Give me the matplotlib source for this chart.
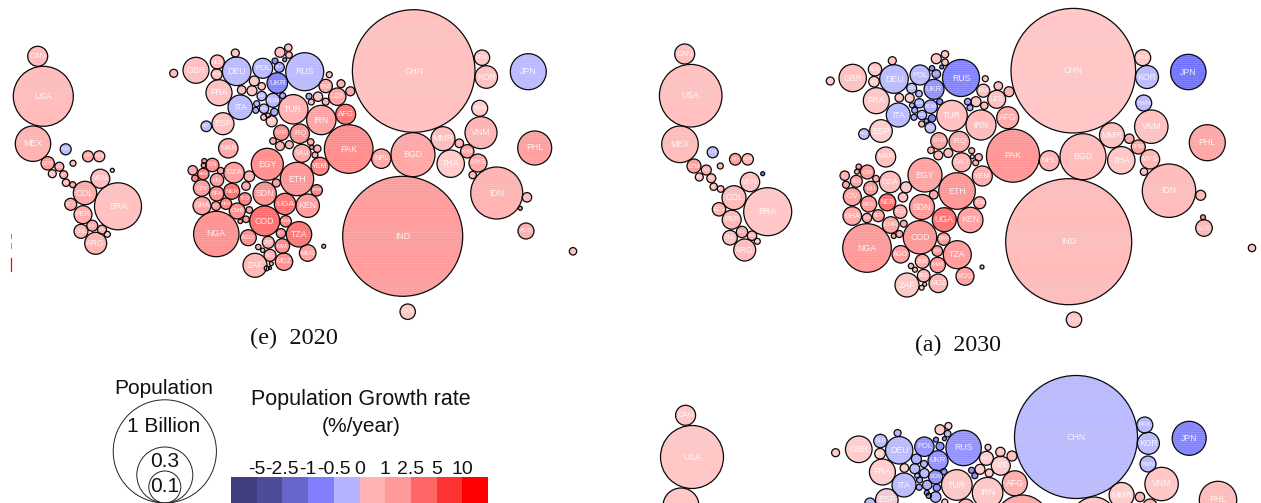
import numpy as np
import matplotlib
matplotlib.use("Agg")
import matplotlib.pyplot as plt
from matplotlib.patches import Circle, Rectangle
from matplotlib.colors import to_rgb

plt.rcParams['font.family'] = ['Liberation Sans', 'DejaVu Sans']
plt.rcParams['hatch.linewidth'] = 0.45

# ---------- 2020 panel (map position, bubble radius, growth rate)
codes_2020 = [
 'CAN','USA','MEX','CUB','HTI','DOM','','','GTM','HND',
 'SLV','NIC','CRI','PAN','VEN','COL','BRA','ECU','PER','BOL',
 'CHL','PRY','URY','ARG','','GBR','NLD','BEL','DEU','POL',
 'RUS','','','','','','','BLR','UKR','FRA',
 '','','','','BGR','ROM','','ITA','','HUN',
 '','','','','GRC','TUR','ESP','PRT','','',
 '','','KAZ','','UZB','IRN','AFG','','','PAK',
 'NPL','BGD','CHN','IND','PRK','KOR','JPN','TWN','VNM','MMR',
 '','KHM','THA','MYS','','IDN','','','AUS','PHL',
 '','LKA','','SYR','IRQ','','','','','',
 '','','SAU','YEM','EGY','MAR','','','GIN','',
 '','','SEN','MLI','DZA','','ETH','','','CIV',
 'BFA','NER','SDN','SOM','TCD','BEN','GHA','TGO','UGA','KEN',
 'CMR','','COD','NGA','','','RWA','BDI','TZA','AGO',
 'ZMB','MWI','MDG','','','','ZWE','MOZ','ZAF','',
 '']
x_2020 = [
 37.7,43.3,33,65.7,88,99.3,73,112.3,47.7,59.3,
 52.3,63.7,66,72.7,100.3,85,118,70.7,83,92.3,
 81,102,107.3,95.7,173.7,196,217.3,216.7,236.7,262.7,
 304.7,235.3,280,288.3,289,275,284.7,279.3,277.3,219,
 241.7,254.3,252,261.7,261.7,273,282.7,240.3,256.7,264,
 255.7,274.3,268,263.7,271.7,293.3,223,206.3,309,311.3,
 318,325.7,325.7,329.3,337.3,321.3,345.7,341,350.3,348.7,
 381.3,413,413.7,402.7,482,486.3,528.3,479.7,481,443,
 459.3,467.3,450.7,478,472.7,496.7,527,520.3,526,534.7,
 573,407.7,323.7,281.3,299.7,273,280,289.3,310.7,311.7,
 317.3,315,302,320,267.3,228.3,204.3,203.7,212.3,192.7,
 220.7,195,203.3,217,234,249.3,297,276.3,246,201.7,
 216.7,231.7,264.7,316.7,245,226,202,216,285,307.7,
 237.3,249.3,264.7,216.3,240.3,246,285.7,281,299,248.3,
 268.3,282.3,307.7,270,258.3,262.7,270,284,255,266.7,
 271.3]
y_2020 = [
 56.3,96.3,143.7,149.3,156.3,156.3,163.3,170.3,163.3,166.7,
 173.7,174.7,182.7,184.7,178.7,193,206.3,204.3,214.7,225.7,
 231.3,229.7,234.3,243.3,73.3,70.3,62,74.3,71.3,68.3,
 71.7,53,52.3,47.7,55,61,59.7,67.3,83,92.7,
 90,81,90.7,86.3,96,100.3,95.7,107.3,103.7,108.7,
 110.3,112,115.3,117.3,121.3,109.3,123.7,126.3,96.3,102,
 96.7,101.7,86,74.7,96.7,120,114.3,83.7,91.3,149,
 158.7,154.7,71,236.3,57.7,77,71.7,108.3,132.7,138.7,
 143.3,151.3,163.7,163,175,193,197.3,208.3,231,148,
 251.3,311.7,246.3,132.7,133.7,141,146,144.7,142,147.3,
 148.7,155,153.3,166.3,164.3,148.3,161,165.3,165,170.3,
 170.7,178.3,174,180,172.7,176.3,179,183,186,188,
 193.7,191.3,193.7,190.3,199,203.7,205.7,206,204,205.7,
 211,210,221,234,221.3,219.3,221.3,233.3,234.3,237.7,
 242.3,246,253,268,247,250.3,255.3,261.7,265.3,268.3,
 263.7]
r_2020 = [
 10,30,17.7,5.5,5.5,5.5,3,2,6.7,4.5,
 4,4,3.7,3,9.5,11.7,23.5,6,9,5.5,
 7,4.5,3,11,4,13,7,5.5,14.3,10,
 19,4,5,3.7,3.3,3,2,5,10.3,13,
 4.3,5,5,3.7,4.7,7,3,12.3,3,4.7,
 3,3.7,2.3,3,5.5,14.7,11,5.3,3,3,
 4.7,3.5,6.7,3,8.7,14.7,10,4,4.5,24.3,
 9.7,22,61.3,60,7.7,11.3,18,8,16,12,
 4.3,6.7,13.7,9,3.7,26,4.7,2,8,17,
 3.7,7.7,2,7.7,9.7,3.3,4.5,4,3.3,2,
 3.7,3,9,9,16,9.7,2.5,2.5,6.7,4.7,
 3.3,3.3,5.7,6.7,10.3,5.3,16.7,4,4.3,8.3,
 7.3,8,11.7,5.7,6.3,5.7,9,4.5,10.7,11.7,
 8,3.3,15,22.7,2.3,3.3,5.7,4.7,12.7,8,
 6,7.3,8.3,1.5,2.7,2.2,6,8.7,12,2.5,
 2]
rate_2020 = [
 .6,.6,.8,-.3,1,.8,.5,.6,1.4,1.2,
 .5,.9,.7,1,.6,1,.5,1.2,.9,1.1,
 .7,.9,.4,.8,.5,.5,.6,.5,-.3,-.3,
 -.3,.4,.5,.5,.5,-.6,-.6,-.5,-.7,.5,
 .5,.4,.4,.4,-.3,-.3,-.4,-.3,-.3,-.3,
 -.4,-.4,.4,.4,.4,.8,.5,-.3,-.5,.5,
 .5,.6,1,.5,1.2,1.2,2.6,.8,1.1,1.9,
 1,1.1,.5,1.4,.4,.5,-.3,.3,.8,.6,
 .7,1.3,.3,1.1,.6,.8,.6,1.6,.9,1.3,
 .4,.4,1,2,1.6,.8,.8,.7,.8,.8,
 .8,.8,1,2.2,1.8,1,1.5,1.6,1.8,1,
 .9,2,2.4,1.4,1.3,.8,1.6,1.1,1,1.4,
 1.8,3.3,1.7,2.3,2.4,2.2,1.2,1.6,2.8,1.4,
 1.7,1,3,1.7,1.4,1.2,2,2,2.8,1.8,
 1,2,1.2,.8,.8,.8,1,1.8,.7,.9,
 .9]

# ---------- 2030 panel
codes_2030 = [
 'CAN','USA','MEX','CUB','HTI','DOM','','','GTM','HND',
 'SLV','NIC','CRI','PAN','VEN','COL','BRA','ECU','PER','BOL',
 'CHL','PRY','URY','ARG','','GBR','NLD','BEL','DEU','POL',
 'RUS','','','','','','','BLR','UKR','FRA',
 '','CZE','','','BGR','ROM','','ITA','','',
 'HUN','','','','','GRC','TUR','ESP','PRT','',
 '','','','KAZ','','UZB','IRN','AFG','','',
 'PAK','NPL','BGD','CHN','IND','PRK','KOR','JPN','TWN','VNM',
 'MMR','','KHM','THA','MYS','','IDN','','','AUS',
 'PHL','','LKA','','SYR','IRQ','','','','',
 '','','','SAU','YEM','EGY','MAR','','','GIN',
 '','','','SEN','MLI','DZA','','ETH','','',
 'CIV','BFA','NER','SDN','SOM','TCD','BEN','GHA','TGO','UGA',
 'KEN','CMR','','COD','NGA','','','RWA','BDI','TZA',
 'AGO','ZMB','MWI','MDG','','','ZWE','MOZ','ZAF','',
 '']
x_2030 = [
 684.7,690.7,680,712.7,735.3,747.7,720.3,762.7,694,706.3,
 699.3,711.3,713.7,720.7,750,734,767.7,719,731.7,742,
 730,752,757.3,744.7,830.3,852.7,875,874,894,920,
 961,892.3,936.3,945,945,932,941.7,936.3,934,876.3,
 899.3,911.7,909.7,919,919.3,930.7,939.7,898.3,912,914.7,
 922,914,932,926.3,921.7,930.3,952,881,864,967.7,
 970,976,984.3,983.3,985.3,996.7,981,1007.7,998.3,1009,
 1013,1049.3,1083,1073.3,1068.7,1142.7,1147,1188.3,1143.7,1151.3,
 1112,1129.3,1138.3,1121.3,1150,1144,1169,1200.7,1203,1204,
 1207.3,1252,1074,982,939,959.3,931,938.3,948.3,971.7,
 972.3,978.7,975.7,961.7,982.3,925,885.7,858.7,857,867.3,
 844.7,876,846,856.3,870.7,890,906,957,933.7,903,
 852.3,868.7,887.3,922,979.7,900.3,878.3,852.3,867,944.3,
 970.3,890.7,903.7,920,867,893.7,899.3,943.7,937.3,957.3,
 900.7,922.3,937.7,965,911,915,923.7,938.3,907,921.7,
 924.7]
y_2030 = [
 54,95.7,144.3,152.3,159.3,159.3,166,173.7,166,170,
 177,178.3,186.7,189,182,197.7,211.7,209.3,219.7,232,
 237.7,235.7,241.3,250,81,78,69.3,81.7,79,75,
 78,60.7,58.7,54.3,62.3,68.3,67,74,89.3,100.7,
 97.7,88.3,98,93.7,103.3,106.7,101.7,115,105.3,110.3,
 115,117.3,118.3,121,124,127.7,115.7,131,134,101.7,
 107.7,101.7,105.7,90.7,78.7,99.3,125,117.7,86,91.7,
 155.7,160.7,156.7,70.7,241.7,57.7,77,72,103,126.7,
 135.3,138.7,147,160.3,159.3,171.7,190.7,195.3,217.3,228,
 142.7,248,319.7,267,141,141.7,150.3,155.3,153,150.7,
 156.7,157.3,162.7,162.3,176,175,157,166.7,171.7,172,
 175.7,178.7,184.7,181.3,188.3,182,187.3,191,194.7,197.3,
 196.7,204,202.3,207,202.7,211.7,215.7,216,218,219.7,
 220,225,223.7,237.3,248,236,234,239,251,254.7,
 254.3,261.3,265,276.3,266,269.7,275.7,283.3,285,287.7,
 284.3]
r_2030 = [
 10,31.3,18.3,5.5,5.8,5.7,3,2,7,5,
 4,4.5,3.7,3.3,9.7,12,24,6.7,9.5,5.7,
 7.3,4.7,3,11,4,13.7,6.7,5.3,14.3,10,
 18.5,4,5,3.7,3.3,2.7,2,4.3,10,13,
 4.3,5,4.5,3.3,4.7,6.7,3,12,2.5,3,
 4.7,3,3.7,2.3,3,5.3,15.3,11.3,5.3,3.3,
 3,5,3.7,6.5,3,9,15,11,4.3,5,
 26.5,10,23,62.3,63,8,11.5,17.7,8,16.7,
 12.5,4.7,7,13.7,9.7,3.7,26.7,5,2.5,8.3,
 18,3.7,7.7,2,8.3,10.3,3.3,4.5,4.5,3,
 2,3.7,3,9.5,10,17,10,2.7,2.5,7,
 4.7,3.3,3.5,6,7,10.7,5.5,18.3,4.3,4.7,
 9,8,8.5,12.5,6,6.7,6,9.3,4.7,12,
 12.7,8.3,3.5,16.7,24.3,2.5,3.5,6.3,5.3,14,
 8.7,7,7.7,9,2.7,2.5,6.3,9.3,12,2.5,
 2]
rate_2030 = [
 .5,.5,.6,-.3,1.4,.7,.6,-.8,1.3,.9,
 .4,.7,.6,.6,.5,.6,.4,.8,.7,1.1,
 .5,.8,.3,.6,.3,.5,.4,.3,-.3,-.3,
 -.7,.4,.4,.4,.4,-.6,-.7,-.6,-.6,.4,
 .4,-.3,.3,-.3,-.4,-.4,-.6,-.3,-.3,-.4,
 -.4,-.4,-.7,-.5,.5,-.3,.5,.3,-.3,-.5,
 -.4,.4,.5,.5,.4,.5,.6,1,.6,.8,
 1.6,.7,.6,.4,.6,.4,-.3,-.8,-.3,.5,
 .5,1,1.2,.4,.7,.5,.6,.7,1.6,.7,
 1.1,.4,.4,1,1.2,1,.7,.6,.6,.8,
 .7,.7,.7,.8,.9,1.2,.5,1,1,1.5,
 .8,.7,1,1.3,1.6,.6,.4,1.6,1,.5,
 1.2,1.5,3.2,1.4,1,.9,1.5,1,1.2,2.9,
 1.3,1.1,1,1.6,1.5,1.1,.9,1.4,1.5,1.4,
 1.3,1,1.5,1.3,.7,.6,.7,.8,.4,.5,
 .5]

# ---------- lower panel (its lower part is cut off by the image edge)
codes_low = [
 'CAN','USA','','','GBR','NLD','BEL','','DEU','POL',
 'RUS','','','','','','','UKR','FRA','',
 '','','','','ROM','','ITA','','','',
 '','','','','','TUR','ESP','','','',
 '','','KAZ','','UZB','IRN','AFG','','','',
 '','','','CHN','PRK','KOR','JPN','TWN','VNM','MMR',
 '','','PHL']
x_low = [
 685.6,692,681,835.6,858.8,880.4,880,897.6,899.2,924.4,
 963.6,940,948.4,947.6,936,944.4,940,938,882.4,904.4,
 916.4,914.8,924,924.4,935.6,944,904,917.2,919.6,927.2,
 919.2,936.8,926.8,935.6,928.8,956.8,886.8,870,971.6,974.8,
 980,989.2,986.4,988,1000.8,987.6,1014.8,1000.4,1012,1022,
 944.8,966,1094,1076,1144.8,1148.4,1189.2,1148,1161.6,1121.6,
 1140,1150,1218]
y_low = [
 415.3,457,506,452.7,449.3,441,453.7,433,450.3,446.7,
 448,429.7,426,433.7,439.7,438.7,446.3,460.7,472,468,
 459,468.7,464,473.3,477,471.7,485,475.7,480,485,
 487.3,487.7,492.7,497,495.7,485,500,503.3,470.3,475.7,
 469.3,473,458.3,447.3,465.7,492.7,483.3,452,456,522,
 502,507,519,437,425,443.3,438.3,464,484,495,
 497,506,500]
r_low = [
 10,31.5,18,4,13.3,6.7,5.3,3.5,13.7,9.7,
 17.7,5,3.5,3.3,2.5,2,4,10,13,4.3,
 5,5,3.5,4.7,7,3,12,2.5,3,4.7,
 3,3.7,2.5,5.3,2.7,15.3,11.3,5.3,3,3,
 5,4,7,3,9.5,15.3,12.5,4.7,5,27,
 3,8,22,61.5,8,11,17,8,16.7,12.5,
 4.7,7,18.7]
rate_low = [
 .4,.4,.4,.3,.3,-.3,.3,-.3,-.3,-.6,
 -.6,.3,.3,-.3,-.6,-.6,-.6,-.6,.3,.3,
 -.4,-.3,-.3,-.3,-.6,-.6,-.3,-.3,-.4,-.4,
 -.4,-.6,-.6,-.4,-.4,.4,.2,-.3,-.6,-.6,
 .3,.3,.3,.3,.3,.4,.9,.4,.5,1,
 .3,.8,.4,-.3,-.3,-.3,-.7,-.3,.4,.3,
 .8,.8,.6]

# ---------- legends
panel_captions = ['(e)  2020', '(a)  2030']
size_labels = ['1 Billion', '0.3', '0.1']
size_radii = [51.6, 28, 16]
class_labels = ['-5', '-2.5', '-1', '-0.5', '0', '1', '2.5', '5', '10']
class_colors = ['#3f3f80', '#4c4c99', '#6666cc', '#8080ff', '#b3b3ff',
                '#ffb3b3', '#ff9999', '#ff6666', '#ff3333', '#ff0000']

# colour ramp seen on the bubbles
ramp_rates = [-0.8, -0.5, -0.3, 0.3, 0.5, 1.0, 1.8, 3.0]
ramp_colors = ['#7070ff', '#a0a0ff', '#b8b8ff', '#ffcaca', '#ffbebe', '#ffa6a6', '#ff8c8c', '#ff6c6c']
ramp_rgb = np.array([to_rgb(c) for c in ramp_colors])


def bubble_color(rate):
    return tuple(np.interp(rate, ramp_rates, ramp_rgb[:, i]) for i in range(3))


fig = plt.figure(figsize=(12.61, 5.03), dpi=100)
ax = fig.add_axes([0, 0, 1, 1])
ax.set_xlim(0, 1261)
ax.set_ylim(503, 0)
ax.axis('off')


def draw_panel(codes, xs, ys, rs, rates):
    for c, x, y, r, g in zip(codes, xs, ys, rs, rates):
        col = bubble_color(g)
        ax.add_patch(Circle((x, y), r, facecolor=col, edgecolor='none', zorder=2))
        if r > 4:
            ax.add_patch(Circle((x, y), r, facecolor='none', edgecolor=(1, 1, 1, 0.22),
                                hatch='-' * 8, linewidth=0, zorder=2.1))
        ax.add_patch(Circle((x, y), r, facecolor='none', edgecolor='#0a0a0a',
                            linewidth=0.9, zorder=2.2))
        if c:
            ax.text(x, y, c, color='white', alpha=0.85, ha='center', va='center',
                    fontsize=min(8.8, r * 0.78) * 0.72, zorder=3, clip_on=True)


draw_panel(codes_2020, x_2020, y_2020, r_2020, rate_2020)
draw_panel(codes_2030, x_2030, y_2030, r_2030, rate_2030)
draw_panel(codes_low, x_low, y_low, r_low, rate_low)

# clipped remnants at the left edge of the picture
ax.plot([10.5, 10.5], [258, 271], color='#ff0000', lw=0.9, zorder=2)
ax.plot([10.5, 10.5], [234, 237.5], color='#888888', lw=0.7, zorder=2)
ax.plot([10.5, 10.5], [243, 248], color='#999999', lw=0.7, zorder=2)

# captions
ax.text(293.5, 338, panel_captions[0], family='Liberation Serif', fontsize=17.5,
        ha='center', va='center', color='#111111')
ax.text(958, 345, panel_captions[1], family='Liberation Serif', fontsize=17.2,
        ha='center', va='center', color='#111111')

# population size key
key_x = 164.8
key_bottom = 503
ax.text(163.5, 388, 'Population', fontsize=15, ha='center', va='center', color='#111111')
for rad in size_radii:
    ax.add_patch(Circle((key_x, key_bottom - rad), rad, facecolor='none',
                        edgecolor='#222222', linewidth=0.7, clip_on=False))
ax.text(163.5, 426.5, size_labels[0], fontsize=15, ha='center', va='center', color='#111111')
ax.text(164.8, 461.5, size_labels[1], fontsize=15, ha='center', va='center', color='#111111')
ax.text(164.8, 487, size_labels[2], fontsize=15, ha='center', va='center', color='#111111')

# growth-rate key
ax.text(361, 399, 'Population Growth rate', fontsize=15.5, ha='center', va='center', color='#111111')
ax.text(361, 427, '(%/year)', fontsize=15, ha='center', va='center', color='#111111')
bar_left, bar_width, bar_top, bar_h = 231, 25.7, 477, 26
for i, col in enumerate(class_colors):
    ax.add_patch(Rectangle((bar_left + i * bar_width, bar_top), bar_width, bar_h,
                           facecolor=col, edgecolor='none'))
for i, lab in enumerate(class_labels):
    ax.text(bar_left + (i + 1) * bar_width, 470, lab, fontsize=14, ha='center',
            va='center', color='#111111')

fig.savefig('out.png', dpi=100)
